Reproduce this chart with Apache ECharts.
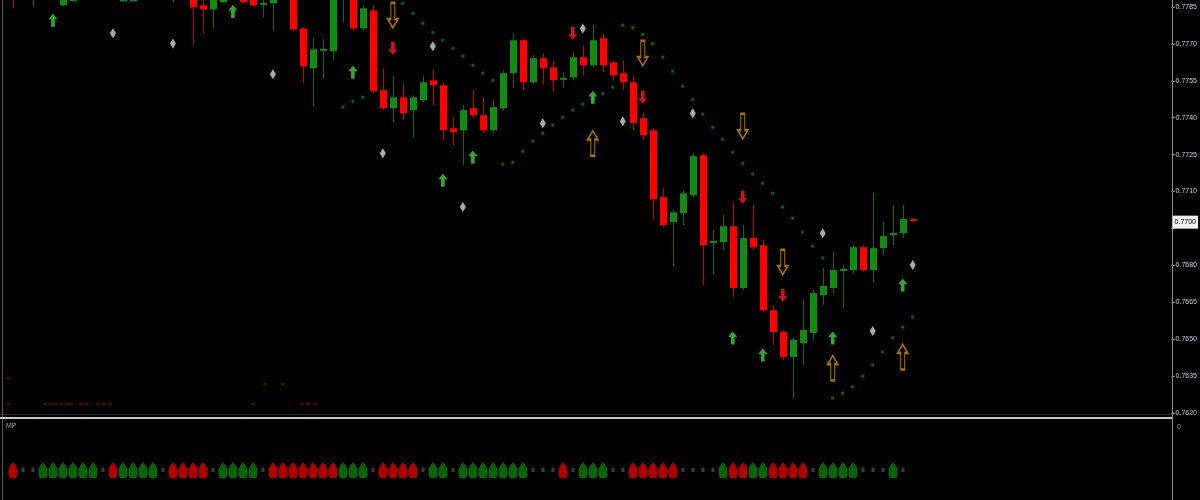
<!DOCTYPE html>
<html>
<head>
<meta charset="utf-8">
<script src="https://cdn.jsdelivr.net/npm/echarts@6/dist/echarts.min.js"></script>
<style>
html,body{margin:0;padding:0;background:#000;}
#chart{width:1200px;height:500px;}
</style>
</head>
<body>
<div id="chart"></div>
<script>
// ---- price axis ticks ----
const priceTicksMin = 0.7620;
const priceTicksMax = 0.7785;
const priceTickStep = 0.0015;

// ---- candles (bar index 0..90) ----
const opens = [0.77999,0.77958,0.77938,0.77979,0.77958,0.77857,0.77873,0.77918,0.77979,0.78039,
0.77999,0.77873,0.77873,0.77910,0.77958,0.78019,0.78039,0.77958,0.77918,0.77857,
0.77840,0.77869,0.77910,0.77910,0.77901,0.77861,0.77865,0.77918,0.77897,0.77763,
0.77601,0.77674,0.77670,0.77897,0.77889,0.77763,0.77836,0.77512,0.77439,0.77483,
0.77431,0.77471,0.77552,0.77532,0.77357,0.77349,0.77439,0.77410,0.77349,0.77439,
0.77581,0.77715,0.77544,0.77642,0.77605,0.77556,0.77564,0.77646,0.77613,0.77723,
0.77625,0.77581,0.77544,0.77398,0.77349,0.77077,0.76976,0.77012,0.77085,0.77248,
0.76891,0.76895,0.76959,0.76708,0.76911,0.76882,0.76618,0.76529,0.76428,0.76484,
0.76525,0.76679,0.76708,0.76777,0.76781,0.76874,0.76781,0.76870,0.76923,0.76931,
0.76988];
const closes = [0.77926,0.78019,0.77999,0.78039,0.78019,0.77897,0.77918,0.77979,0.78039,0.77999,
0.77938,0.77918,0.77910,0.77958,0.78019,0.78039,0.77958,0.77918,0.77849,0.77840,
0.77885,0.77910,0.77958,0.77869,0.77857,0.77865,0.77897,0.77999,0.77759,0.77609,
0.77678,0.77678,0.77889,0.77958,0.77763,0.77845,0.77508,0.77439,0.77483,0.77418,
0.77483,0.77544,0.77532,0.77349,0.77341,0.77431,0.77410,0.77349,0.77443,0.77581,
0.77715,0.77544,0.77642,0.77601,0.77552,0.77560,0.77646,0.77613,0.77715,0.77613,
0.77572,0.77544,0.77378,0.77329,0.77069,0.76964,0.77016,0.77093,0.77244,0.76882,
0.76899,0.76959,0.76708,0.76911,0.76874,0.76618,0.76529,0.76428,0.76497,0.76537,
0.76687,0.76716,0.76781,0.76785,0.76874,0.76781,0.76870,0.76919,0.76931,0.76988,
0.76980];
const lows = [0.77845,0.77938,0.77853,0.77958,0.77910,0.77853,0.77873,0.77910,0.77958,0.77979,
0.77918,0.77873,0.77873,0.77897,0.77938,0.77999,0.77869,0.77897,0.77694,0.77743,
0.77763,0.77869,0.77897,0.77865,0.77853,0.77808,0.77755,0.77910,0.77755,0.77540,
0.77443,0.77556,0.77633,0.77788,0.77755,0.77755,0.77499,0.77431,0.77382,0.77390,
0.77321,0.77463,0.77451,0.77309,0.77288,0.77207,0.77398,0.77337,0.77337,0.77431,
0.77520,0.77512,0.77536,0.77532,0.77504,0.77520,0.77552,0.77572,0.77605,0.77585,
0.77552,0.77512,0.77349,0.77309,0.76984,0.76955,0.76793,0.76964,0.77077,0.76720,
0.76761,0.76862,0.76671,0.76700,0.76862,0.76610,0.76476,0.76415,0.76261,0.76395,
0.76497,0.76639,0.76687,0.76627,0.76769,0.76773,0.76728,0.76842,0.76882,0.76911,
0.76980];
const highs = [0.78039,0.78039,0.78019,0.78060,0.78039,0.77918,0.77938,0.77999,0.78060,0.78060,
0.78019,0.77938,0.77926,0.77979,0.78039,0.78060,0.78060,0.77979,0.77938,0.77885,
0.77897,0.77926,0.77979,0.77926,0.77918,0.77885,0.77910,0.78019,0.77918,0.77767,
0.77723,0.77719,0.77910,0.77979,0.77910,0.77857,0.77857,0.77601,0.77572,0.77540,
0.77491,0.77572,0.77593,0.77540,0.77402,0.77451,0.77512,0.77483,0.77471,0.77593,
0.77743,0.77723,0.77654,0.77662,0.77633,0.77585,0.77666,0.77694,0.77776,0.77743,
0.77633,0.77633,0.77572,0.77422,0.77357,0.77114,0.77024,0.77106,0.77256,0.77256,
0.76943,0.77004,0.77053,0.76964,0.77045,0.76903,0.76639,0.76537,0.76505,0.76659,
0.76700,0.76789,0.76854,0.76801,0.76882,0.76882,0.77093,0.76976,0.77045,0.77045,
0.76988];

// ---- trailing stop dots [bar, price] ----
const sarPoints = [[33,0.77443],[34,0.77467],[35,0.77483],
[39,0.77865],[40,0.77824],[41,0.77784],[42,0.77747],[43,0.77715],[44,0.77682],[45,0.77650],[46,0.77613],[47,0.77581],[48,0.77552],
[49,0.77211],[50,0.77219],[51,0.77264],[52,0.77305],[53,0.77337],[54,0.77370],[55,0.77402],[56,0.77431],[57,0.77455],[58,0.77479],[59,0.77499],[60,0.77524],
[61,0.77776],[62,0.77767],[63,0.77739],[64,0.77702],[65,0.77646],[66,0.77589],[67,0.77528],[68,0.77475],[69,0.77414],[70,0.77361],[71,0.77313],[72,0.77260],[73,0.77215],[74,0.77171],[75,0.77134],[76,0.77093],[77,0.77037],[78,0.76992],[79,0.76935],[80,0.76878],[81,0.76830],
[82,0.76261],[83,0.76281],[84,0.76306],[85,0.76350],[86,0.76395],[87,0.76448],[88,0.76505],[89,0.76549],[90,0.76590]];

// ---- signal markers [bar, price] ----
const grayMarks = [[10,0.77743],[16,0.77702],[26,0.77577],[37,0.77256],[42,0.77690],[45,0.77037],[53,0.77378],[57,0.77763],[61,0.77386],[68,0.77418],[81,0.76931],[86,0.76533],[90,0.76801]];
const buyArrows = [[4,0.77796],[22,0.77832],[34,0.77585],[43,0.77146],[46,0.77240],[58,0.77483],[72,0.76505],[75,0.76436],[82,0.76505],[89,0.76720]];
const sellArrows = [[38,0.77682],[56,0.77743],[63,0.77483],[73,0.77077],[77,0.76679]];
const swingDown = [[38,0.77816],[63,0.77662],[73,0.77365],[77,0.76813]];
const swingUp = [[58,0.77296],[82,0.76383],[89,0.76428]];
const faintDots = [[-0.5,0.76342],[-0.5,0.76237],[3.2,0.76237],[3.7,0.76237],[4.2,0.76237],[4.8,0.76237],[5.4,0.76237],[5.8,0.76237],[6.8,0.76237],[7.4,0.76237],[8.5,0.76237],[9.1,0.76237],[9.7,0.76237],[24,0.76237],[25.2,0.76318],[27,0.76318],[28.9,0.76237],[29.5,0.76237],[30.2,0.76237]];

// ---- lower window: 1 = green, -1 = red, 0 = neutral ----
const lowerSignal = [-1,0,0,1,1,1,1,1,1,0,
-1,1,1,1,1,0,-1,-1,-1,-1,
0,1,1,1,1,0,-1,-1,-1,-1,
-1,-1,-1,1,1,1,0,-1,-1,-1,
-1,0,1,1,0,1,1,1,1,1,
1,1,0,0,0,-1,0,1,1,1,
0,0,-1,-1,-1,-1,-1,0,0,0,
0,1,-1,-1,1,1,-1,-1,-1,-1,
0,1,1,1,1,0,0,0,1,0];

const lastPrice = closes[closes.length - 1];

const UP = '#138a13', UPW = '#0e6a0e', DN = '#ff0000', DNW = '#c80000';
const candleData = opens.map((o, i) => [i, o, closes[i], lows[i], highs[i]]);

function renderCandle(params, api) {
  const x = api.value(0), o = api.value(1), c = api.value(2), l = api.value(3), h = api.value(4);
  const pO = api.coord([x, o]), pC = api.coord([x, c]), pL = api.coord([x, l]), pH = api.coord([x, h]);
  const up = c >= o;
  const cx = Math.round(pO[0]);
  let top = Math.min(pO[1], pC[1]);
  let bh = Math.abs(pO[1] - pC[1]);
  if (bh < 2) { top = (pO[1] + pC[1]) / 2 - 1; bh = 2; }
  return {
    type: 'group',
    children: [
      { type: 'line', shape: { x1: cx + 0.5, y1: pH[1], x2: cx + 0.5, y2: pL[1] },
        style: { stroke: up ? UPW : DNW, lineWidth: 1 } },
      { type: 'rect', shape: { x: cx - 3, y: top, width: 7, height: bh },
        style: { fill: up ? UP : DN } }
    ]
  };
}

const glyph = 'path://M0,-8 L2,-5 L4,-1 L4,4 L3,8 L-3,8 L-4,4 L-4,-1 L-2,-5 Z';
const arrowUp = 'path://M0,-7 L5,-1 L2,-1 L2,7 L-2,7 L-2,-1 L-5,-1 Z';
const arrowDown = 'path://M0,7 L5,1 L2,1 L2,-7 L-2,-7 L-2,1 L-5,1 Z';
const hollowDown = 'path://M-2,-13 L2,-13 L2,4 L5,4 L0,13 L-5,4 L-2,4 Z';
const hollowUp = 'path://M-2,13 L2,13 L2,-4 L5,-4 L0,-13 L-5,-4 L-2,-4 Z';

const lowerUp = [], lowerDn = [], lowerFlat = [];
lowerSignal.forEach((v, i) => {
  if (v === 1) lowerUp.push([i, 0]);
  else if (v === -1) lowerDn.push([i, 0]);
  else if (v === 0) lowerFlat.push([i, 0]);
});

const FONT = 'Liberation Sans, Arial, sans-serif';
const chart = echarts.init(document.getElementById('chart'), null, { renderer: 'canvas' });
chart.setOption({
  backgroundColor: '#000',
  animation: false,
  grid: [
    { left: 3, right: 28, top: 7, height: 406 },
    { left: 3, right: 28, top: 440, height: 60 }
  ],
  xAxis: [
    { type: 'value', gridIndex: 0, min: -1, max: 115.9, show: false, axisLine: { onZero: false } },
    { type: 'value', gridIndex: 1, min: -1, max: 115.9, show: false, axisLine: { onZero: false } }
  ],
  yAxis: [
    { type: 'value', gridIndex: 0, position: 'right', min: priceTicksMin, max: priceTicksMax, interval: priceTickStep,
      axisLine: { show: false, onZero: false },
      axisTick: { show: true, length: 3, lineStyle: { color: '#8a8a8a' } },
      splitLine: { show: false },
      axisLabel: { color: '#c4c8d4', fontSize: 7, margin: 4, fontFamily: FONT,
        formatter: v => (Math.abs(v - lastPrice) < 0.0004 ? '' : v.toFixed(4)) } },
    { type: 'value', gridIndex: 1, min: -1, max: 1, show: false, axisLine: { onZero: false } }
  ],
  series: [
    { type: 'scatter', xAxisIndex: 0, yAxisIndex: 0, data: faintDots, symbol: 'rect', symbolSize: [4, 2],
      itemStyle: { color: '#7a0000' }, clip: false, silent: true },
    { type: 'scatter', xAxisIndex: 0, yAxisIndex: 0, data: sarPoints, symbol: 'rect', symbolSize: [3, 3],
      itemStyle: { color: '#0a7a0a' }, clip: false, silent: true },
    { type: 'custom', xAxisIndex: 0, yAxisIndex: 0, data: candleData, renderItem: renderCandle,
      encode: { x: 0, y: [1, 2, 3, 4] }, clip: false, silent: true,
      markLine: { silent: true, symbol: ['none', 'none'], data: [{ yAxis: lastPrice }],
        lineStyle: { color: 'rgba(0,0,0,0)', width: 1 },
        label: { show: true, position: 'end', distance: 1, formatter: p => Number(p.value).toFixed(4),
          verticalAlign: 'middle', offset: [0, 6],
          backgroundColor: '#f0f0f0', color: '#000', fontSize: 7, padding: [3, 2, 3, 2],
          fontFamily: FONT } } },
    { type: 'scatter', xAxisIndex: 0, yAxisIndex: 0, data: grayMarks, symbol: 'diamond', symbolSize: [6, 10],
      itemStyle: { color: '#d4d4d4' }, clip: false, silent: true },
    { type: 'scatter', xAxisIndex: 0, yAxisIndex: 0, data: buyArrows, symbol: arrowUp, symbolSize: [9, 13],
      itemStyle: { color: '#3ed23e' }, clip: false, silent: true },
    { type: 'scatter', xAxisIndex: 0, yAxisIndex: 0, data: sellArrows, symbol: arrowDown, symbolSize: [9, 13],
      itemStyle: { color: '#ff1a1a' }, clip: false, silent: true },
    { type: 'scatter', xAxisIndex: 0, yAxisIndex: 0, data: swingDown, symbol: hollowDown, symbolSize: [10, 25],
      itemStyle: { color: 'rgba(0,0,0,0)', borderColor: '#d48c00', borderWidth: 1.6 }, clip: false, silent: true },
    { type: 'scatter', xAxisIndex: 0, yAxisIndex: 0, data: swingUp, symbol: hollowUp, symbolSize: [10, 25],
      itemStyle: { color: 'rgba(0,0,0,0)', borderColor: '#d48c00', borderWidth: 1.6 }, clip: false, silent: true },
    { type: 'scatter', xAxisIndex: 1, yAxisIndex: 1, data: lowerUp, symbol: glyph, symbolSize: [9, 16],
      itemStyle: { color: '#0b7c0b' }, clip: false, silent: true },
    { type: 'scatter', xAxisIndex: 1, yAxisIndex: 1, data: lowerDn, symbol: glyph, symbolSize: [9, 16],
      itemStyle: { color: '#d80000' }, clip: false, silent: true },
    { type: 'scatter', xAxisIndex: 1, yAxisIndex: 1, data: lowerFlat, symbol: 'rect', symbolSize: [3, 4],
      itemStyle: { color: '#4a4a4a' }, clip: false, silent: true }
  ],
  graphic: [
    { type: 'line', shape: { x1: 2.5, y1: 0, x2: 2.5, y2: 500 }, style: { stroke: '#555', lineWidth: 1 }, silent: true },
    { type: 'line', shape: { x1: 1172.5, y1: 0, x2: 1172.5, y2: 500 }, style: { stroke: '#8c8c8c', lineWidth: 1 }, silent: true },
    { type: 'line', shape: { x1: 0, y1: 414.5, x2: 1172, y2: 414.5 }, style: { stroke: '#2a2a2a', lineWidth: 1 }, silent: true },
    { type: 'line', shape: { x1: 0, y1: 418, x2: 1172, y2: 418 }, style: { stroke: '#c8c8c8', lineWidth: 2 }, silent: true },
    { type: 'text', left: 6, top: 423, style: { text: 'MP', fill: '#9a9a9a', font: '7px ' + FONT }, silent: true },
    { type: 'text', left: 1177, top: 424, style: { text: '0', fill: '#9a9a9a', font: '7px ' + FONT }, silent: true }
  ]
});
</script>
</body>
</html>
